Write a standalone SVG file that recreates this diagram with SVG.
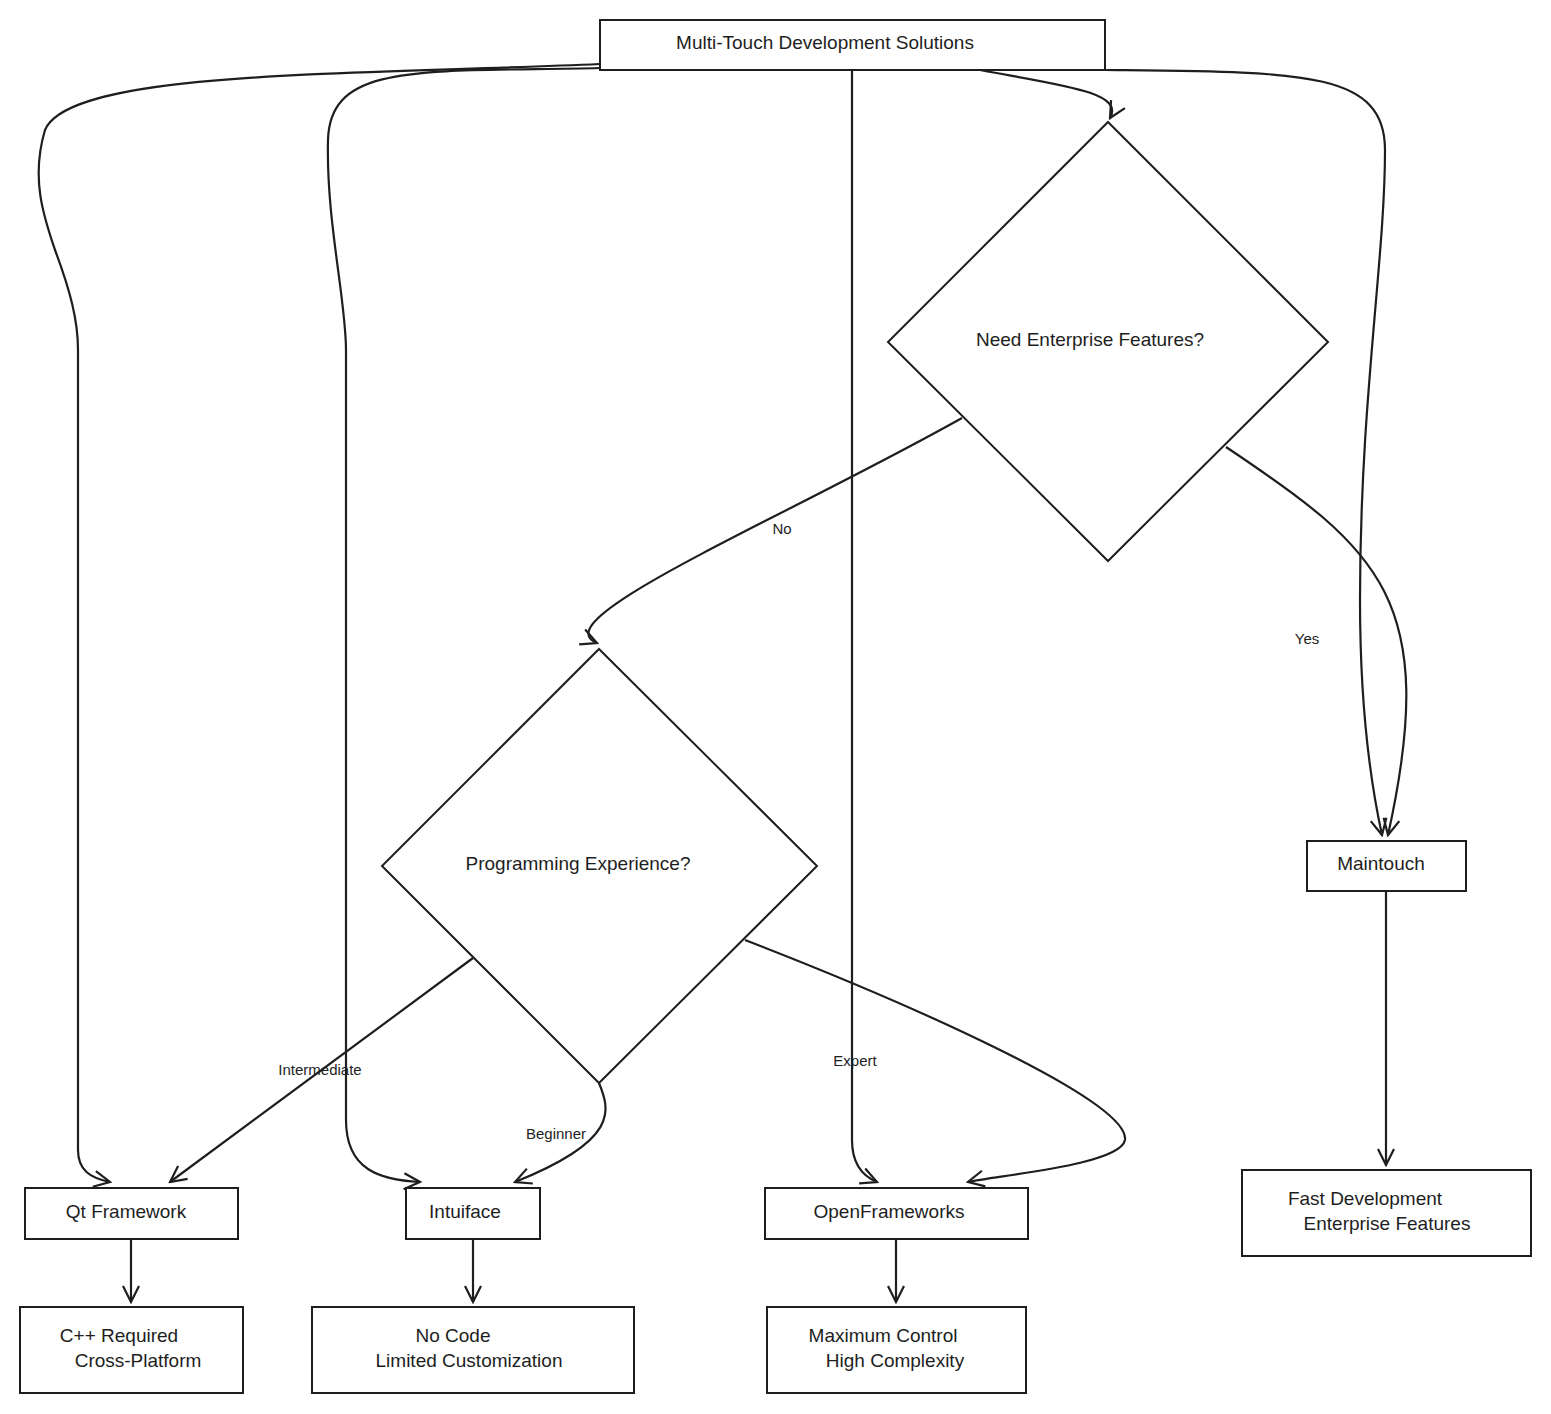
<svg xmlns="http://www.w3.org/2000/svg" width="1551" height="1414" viewBox="0 0 1551 1414">
<style>
.n{fill:#fff;stroke:#1e1e1e;stroke-width:2}
.t{font-family:"Liberation Sans",Arial,sans-serif;font-size:19px;fill:#1e1e1e;text-anchor:middle;dominant-baseline:middle}
.l{font-family:"Liberation Sans",Arial,sans-serif;font-size:15px;fill:#1e1e1e;text-anchor:middle;dominant-baseline:middle}
.c{fill:none;stroke:#1e1e1e;stroke-width:2.2;marker-end:url(#a)}
</style>
<defs>
<marker id="a" viewBox="0 0 20 20" refX="18" refY="10" markerWidth="20" markerHeight="20" markerUnits="userSpaceOnUse" orient="auto">
<path d="M2,2 L18,10 L2,18" fill="none" stroke="#1e1e1e" stroke-width="2.2"/>
</marker>
</defs>
<rect width="1551" height="1414" fill="#fff"/>
<g id="connectors">
<path class="c" d="M600,64 C350,75 70,70 45,130 C30,180 45,220 55,250 C70,290 78,320 78,350 L78,1150 C78,1170 90,1178 110,1182"/>
<path class="c" d="M600,68 C420,72 330,62 328,140 C326,220 346,300 346,350 L346,1120 C346,1170 380,1180 420,1182"/>
<path class="c" d="M852,70 L852,1140 C852,1160 860,1175 877,1182"/>
<path class="c" d="M980,70 C1060,85 1125,92 1110,118"/>
<path class="c" d="M1105,70 C1300,72 1385,70 1385,150 C1385,260 1360,400 1360,600 C1360,700 1370,780 1382,835"/>
<path class="c" d="M962,418 C780,520 540,620 597,643"/>
<path class="c" d="M1226,447 C1380,550 1440,600 1388,835"/>
<path class="c" d="M473,958 L170,1182"/>
<path class="c" d="M599,1083 C610,1110 620,1140 515,1182"/>
<path class="c" d="M745,940 C900,1000 1130,1100 1125,1140 C1120,1165 1000,1175 968,1182"/>
<path class="c" d="M1386,891 L1386,1165"/>
<path class="c" d="M131,1239 L131,1302"/>
<path class="c" d="M473,1239 L473,1302"/>
<path class="c" d="M896,1239 L896,1302"/>
<text class="l" x="782" y="530">No</text>
<text class="l" x="1307" y="640">Yes</text>
<text class="l" x="320" y="1071">Intermediate</text>
<text class="l" x="556" y="1135">Beginner</text>
<text class="l" x="855" y="1062">Expert</text>
</g>
<g id="top"><rect class="n" x="600" y="20" width="505" height="50"/><text class="t" x="825" y="44">Multi-Touch Development Solutions</text></g>
<g id="d1"><path class="n" d="M1108,122 L1328,342 L1108,561 L888,342 Z"/><text class="t" x="1090" y="341">Need Enterprise Features?</text></g>
<g id="d2"><path class="n" d="M599,649 L817,866 L599,1083 L382,866 Z"/><text class="t" x="578" y="865">Programming Experience?</text></g>
<g id="maintouch"><rect class="n" x="1307" y="841" width="159" height="50"/><text class="t" x="1381" y="865">Maintouch</text></g>
<g id="fast"><rect class="n" x="1242" y="1170" width="289" height="86"/><text class="t" x="1365" y="1200">Fast Development</text><text class="t" x="1387" y="1225">Enterprise Features</text></g>
<g id="qt"><rect class="n" x="25" y="1188" width="213" height="51"/><text class="t" x="126" y="1213">Qt Framework</text></g>
<g id="intuiface"><rect class="n" x="406" y="1188" width="134" height="51"/><text class="t" x="465" y="1213">Intuiface</text></g>
<g id="openframeworks"><rect class="n" x="765" y="1188" width="263" height="51"/><text class="t" x="889" y="1213">OpenFrameworks</text></g>
<g id="cpp"><rect class="n" x="20" y="1307" width="223" height="86"/><text class="t" x="119" y="1337">C++ Required</text><text class="t" x="138" y="1362">Cross-Platform</text></g>
<g id="nocode"><rect class="n" x="312" y="1307" width="322" height="86"/><text class="t" x="453" y="1337">No Code</text><text class="t" x="469" y="1362">Limited Customization</text></g>
<g id="maxctl"><rect class="n" x="767" y="1307" width="259" height="86"/><text class="t" x="883" y="1337">Maximum Control</text><text class="t" x="895" y="1362">High Complexity</text></g>
</svg>
